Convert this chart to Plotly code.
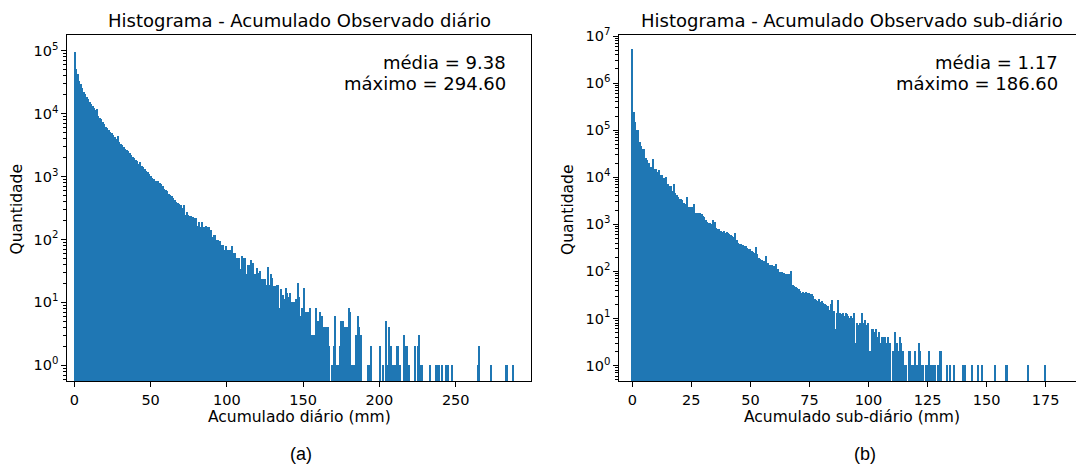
import numpy as np
import plotly.graph_objects as go

# ---------------------------------------------------------------
# Histogram counts (300 equal-width bins from 0 to the maximum)
# ---------------------------------------------------------------
daily_max = 294.60
daily_mean = 9.38
daily_counts = [
    95500, 50100, 41700, 33100, 29500, 25100, 21900, 20000, 18200, 16600,
    15100, 14100, 12900, 12000, 11200, 11700, 9120, 8510, 8130, 7240,
    6760, 6170, 5890, 5500, 5130, 4790, 4570, 4170, 3980, 4370,
    3550, 3310, 3090, 2950, 2750, 2630, 2510, 2340, 2190, 2040,
    1950, 1820, 1740, 1580, 1660, 1450, 1380, 1290, 1200, 1150,
    1070, 1000, 955, 891, 851, 851, 832, 776, 759, 692,
    631, 603, 575, 525, 501, 490, 447, 417, 389, 372,
    363, 355, 316, 355, 245, 275, 240, 234, 234, 229,
    219, 214, 162, 186, 158, 186, 158, 158, 162, 158,
    158, 141, 107, 117, 117, 98, 98, 93, 81, 81,
    68, 78, 68, 68, 67, 78, 60, 60, 50, 50,
    50, 33, 55, 50, 50, 28, 39, 39, 46, 42,
    28, 28, 35, 29, 31, 23, 23, 23, 19, 36,
    19, 28, 24, 18, 18, 19, 19, 8, 16, 13,
    11, 17, 14, 12, 14, 10, 10, 10, 11, 20,
    12, 6, 8, 17, 7, 7, 7, 8, 3, 3,
    3, 8, 5, 5, 7, 6, 4, 4, 4, 4,
    2, 0, 1, 2, 6, 1, 1, 2, 5, 5,
    4, 4, 4, 8, 7, 1, 1, 1, 3, 6,
    4, 3, 0, 0, 0, 0, 1, 1, 2, 0,
    0, 0, 0, 0, 2, 0, 1, 0, 5, 1,
    4, 2, 1, 1, 1, 2, 2, 1, 0, 0,
    3, 2, 2, 1, 0, 0, 0, 2, 0, 2,
    3, 1, 1, 0, 0, 0, 0, 1, 0, 0,
    0, 1, 1, 1, 0, 1, 0, 0, 1, 1,
    0, 0, 1, 0, 0, 0, 0, 0, 0, 0,
    0, 0, 0, 0, 0, 0, 0, 0, 0, 1,
    2, 0, 0, 0, 0, 0, 0, 0, 1, 0,
    0, 0, 0, 0, 0, 0, 0, 0, 1, 1,
    0, 0, 0, 1, 0, 0, 0, 0, 0, 0,
]

subdaily_max = 186.60
subdaily_mean = 1.17
subdaily_counts = [
    5250000, 245000, 145000, 100000, 99000, 56200, 45700, 38900, 39800, 25100,
    22900, 20000, 16200, 16200, 24000, 14500, 14400, 12900, 13800, 11000,
    10900, 9330, 9300, 10000, 7080, 6460, 6400, 5130, 7080, 4470,
    4170, 3800, 3390, 3380, 3240, 2820, 2690, 3800, 2340, 2330,
    2290, 2280, 2690, 1740, 1730, 1720, 1740, 1620, 1450, 1410,
    1230, 1120, 1070, 1060, 1000, 1230, 1120, 832, 776, 770,
    724, 692, 708, 661, 676, 631, 603, 575, 562, 525,
    631, 457, 398, 380, 372, 355, 339, 347, 316, 302,
    295, 263, 257, 240, 331, 229, 186, 178, 174, 166,
    162, 209, 151, 138, 132, 132, 126, 120, 145, 112,
    98, 95, 96, 91, 89, 87, 89, 85, 100, 50,
    48, 46, 44, 42, 38, 35, 36, 35, 36, 34,
    35, 32, 33, 30, 25, 24, 23, 25, 22, 23,
    21, 20, 19, 18, 15, 20, 24, 14, 6, 13,
    24, 13, 12, 13, 11, 13, 12, 11, 10, 11,
    10, 13, 3, 8, 7, 8, 13, 8, 9, 7,
    8, 2, 2, 6, 6, 5, 6, 4, 5, 3,
    4, 4, 4, 3, 4, 3, 0, 2, 2, 5,
    3, 2, 4, 3, 2, 1, 1, 0, 2, 2,
    1, 1, 2, 1, 1, 3, 2, 1, 1, 0,
    1, 1, 2, 1, 1, 1, 1, 0, 1, 2,
    2, 0, 0, 0, 1, 0, 1, 0, 0, 1,
    0, 0, 0, 0, 0, 1, 1, 0, 0, 0,
    0, 1, 0, 0, 0, 1, 0, 0, 1, 0,
    0, 0, 0, 0, 0, 0, 0, 1, 0, 0,
    0, 0, 0, 0, 1, 1, 0, 0, 0, 0,
    0, 0, 0, 0, 0, 0, 0, 0, 0, 1,
    0, 0, 0, 0, 0, 0, 0, 0, 0, 0,
    0, 1, 0, 0, 0, 0, 0, 0, 0, 0,
    0, 0, 0, 0, 0, 0, 0, 0, 0, 0,
]

daily_xticks = [0, 50, 100, 150, 200, 250]
subdaily_xticks = [0, 25, 50, 75, 100, 125, 150, 175]
daily_decades = [0, 1, 2, 3, 4, 5]
subdaily_decades = [0, 1, 2, 3, 4, 5, 6, 7]

BLUE = "#1f77b4"
FONT = "DejaVu Sans"
W, H = 1076, 465


def bars(counts, vmax, xa, ya):
    edges = np.linspace(0.0, vmax, len(counts) + 1)
    centers = 0.5 * (edges[:-1] + edges[1:])
    widths = np.diff(edges)
    y = [c if c > 0 else None for c in counts]
    return go.Bar(x=centers, y=y, width=widths, xaxis=xa, yaxis=ya,
                  marker=dict(color=BLUE, line=dict(width=0)),
                  hoverinfo="x+y")


def log_axis(decades, lo, hi):
    major = [10.0 ** d for d in decades]
    text = ["10<sup>%d</sup>" % d for d in decades]
    minor = []
    for d in range(int(np.floor(lo)), int(np.ceil(hi)) + 1):
        for m in range(2, 10):
            v = m * 10.0 ** d
            if lo <= np.log10(v) <= hi:
                minor.append(v)
    return dict(type="log", range=[lo, hi], tickmode="array", tickvals=major,
                ticktext=text, ticks="outside", ticklen=5, tickwidth=1,
                tickcolor="black", showline=True, linecolor="black",
                linewidth=1, showgrid=False, zeroline=False, automargin=False,
                tickfont=dict(family=FONT, size=14.5, color="black"),
                minor=dict(tickmode="array", tickvals=minor, ticks="outside",
                           ticklen=3, tickwidth=1, tickcolor="black",
                           showgrid=False))


def lin_axis(ticks, rng):
    return dict(range=rng, tickmode="array", tickvals=ticks,
                ticks="outside", ticklen=5, tickwidth=1, tickcolor="black",
                showline=True, linecolor="black", linewidth=1, mirror=True,
                showgrid=False, zeroline=False, automargin=False,
                tickfont=dict(family=FONT, size=14.5, color="black"))


fig = go.Figure()
fig.add_trace(bars(daily_counts, daily_max, "x", "y"))
fig.add_trace(bars(subdaily_counts, subdaily_max, "x2", "y2"))

ydom = [(H - 381.3) / H, (H - 35.3) / H]

xa1 = lin_axis(daily_xticks, [-4.6, 299.15])
xa1.update(domain=[67.3 / W, 530.7 / W], anchor="y")
ya1 = log_axis(daily_decades, -0.254, 5.245)
ya1.update(domain=ydom, anchor="x", mirror=True)

xa2 = lin_axis(subdaily_xticks, [-5.5, 187.85])
xa2.update(domain=[619.3 / W, 1.0], anchor="y2")
ya2 = log_axis(subdaily_decades, -0.334, 7.015)
ya2.update(domain=ydom, anchor="x2")

fig.update_layout(xaxis=xa1, yaxis=ya1, xaxis2=xa2, yaxis2=ya2)


def px(x, y):
    return x / W, 1 - y / H


def label(text, x, y, size, xanchor="center", angle=0, family=FONT):
    ax, ay = px(x, y)
    fig.add_annotation(text=text, x=ax, y=ay, xref="paper", yref="paper",
                       xanchor=xanchor, yanchor="middle", showarrow=False,
                       textangle=angle,
                       font=dict(family=family, size=size, color="black"))


# titles
label("Histograma - Acumulado Observado diário", 299, 20.5, 18)
label("Histograma - Acumulado Observado sub-diário", 852, 20.5, 18)
# axis titles
label("Acumulado diário (mm)", 299.5, 416.5, 15.5)
label("Acumulado sub-diário (mm)", 852, 416.5, 15.5)
label("Quantidade", 16.5, 210, 15.5, angle=-90)
label("Quantidade", 568, 210, 15.5, angle=-90)
# statistics
label("média = %.2f" % daily_mean, 508, 62.5, 18, xanchor="right")
label("máximo = %.2f" % daily_max, 508, 83.5, 18, xanchor="right")
label("média = %.2f" % subdaily_mean, 1059.5, 62.5, 18, xanchor="right")
label("máximo = %.2f" % subdaily_max, 1059.5, 83.5, 18, xanchor="right")
# panel tags
label("(a)", 301, 454, 18, family="Liberation Sans")
label("(b)", 864.5, 454, 18, family="Liberation Sans")

fig.update_layout(width=W, height=H, margin=dict(l=0, r=0, t=0, b=0),
                  plot_bgcolor="white", paper_bgcolor="white",
                  showlegend=False, bargap=0, barmode="overlay")

fig.write_html("out.html")
